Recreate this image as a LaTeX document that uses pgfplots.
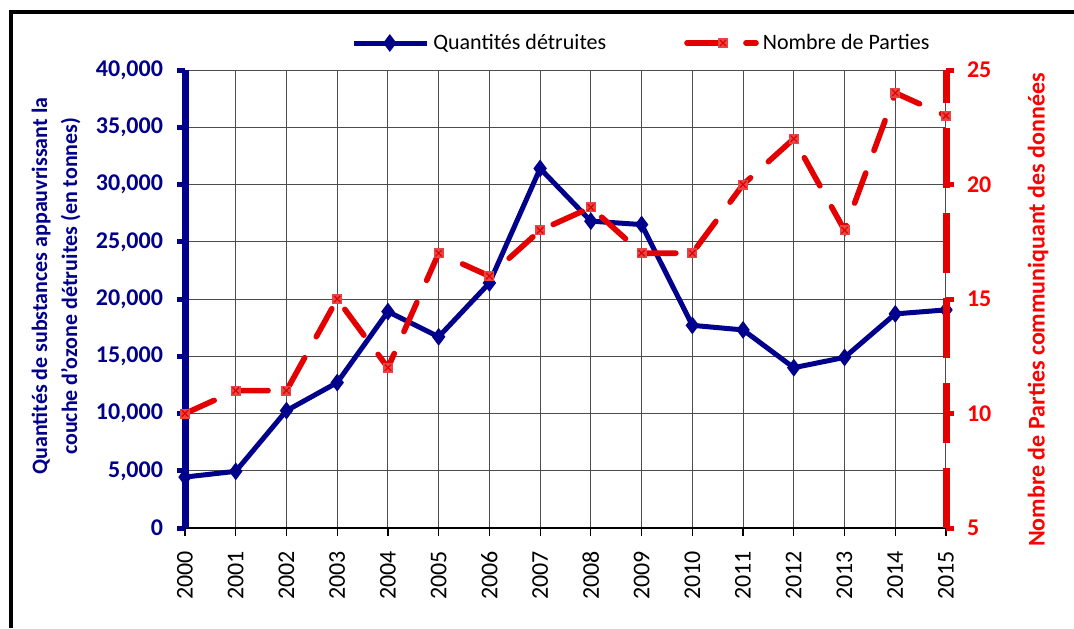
\documentclass[border=0pt]{standalone}
\usepackage{pgfplots}
\pgfplotsset{compat=1.18}
\usepackage{fontspec}
\setmainfont{Carlito}
\definecolor{cblue}{RGB}{0,0,140}
\definecolor{cred}{RGB}{228,0,0}
\definecolor{tred}{RGB}{255,0,0}
\definecolor{mred}{RGB}{230,70,70}
\pgfdeclareplotmark{sqx}{%
  \pgfpathrectangle{\pgfqpoint{-\pgfplotmarksize}{-\pgfplotmarksize}}{\pgfqpoint{2\pgfplotmarksize}{2\pgfplotmarksize}}%
  \pgfusepathqfill
  \pgfsetlinewidth{0.6pt}%
  \pgfpathmoveto{\pgfqpoint{-0.6\pgfplotmarksize}{-0.6\pgfplotmarksize}}%
  \pgfpathlineto{\pgfqpoint{0.6\pgfplotmarksize}{0.6\pgfplotmarksize}}%
  \pgfpathmoveto{\pgfqpoint{-0.6\pgfplotmarksize}{0.6\pgfplotmarksize}}%
  \pgfpathlineto{\pgfqpoint{0.6\pgfplotmarksize}{-0.6\pgfplotmarksize}}%
  \pgfusepathqstroke
}
\pgfplotstableread{
year q
2000 4450
2001 4950
2002 10250
2003 12700
2004 18900
2005 16700
2006 21400
2007 31400
2008 26800
2009 26500
2010 17700
2011 17300
2012 14000
2013 14900
2014 18700
2015 19050
}\qtab
\pgfplotstableread{
year n
2000 10
2001 11
2002 11
2003 15
2004 12
2005 17
2006 16
2007 18
2008 19
2009 17
2010 17
2011 20
2012 22
2013 18
2014 24
2015 23
}\ntab
\begin{document}
\begin{tikzpicture}
\useasboundingbox (0,0) rectangle (537pt,314pt);
\draw[line width=2pt] (5.5pt,0) -- (5.5pt,308pt) -- (540pt,308pt);
\begin{axis}[
  at={(92.5pt,50pt)}, anchor=south west,
  scale only axis, width=380.5pt, height=229pt,
  xmin=2000, xmax=2015, ymin=0, ymax=40000,
  xtick={2000,...,2015},
  xticklabels={2000,2001,2002,2003,2004,2005,2006,2007,2008,2009,2010,2011,2012,2013,2014,2015},
  ytick={0,5000,...,40000},
  scaled y ticks=false,
  /pgf/number format/assume math mode=true,
  /pgf/number format/1000 sep={,},
  axis x line*=bottom, axis y line*=left,
  x axis line style={black, line width=0.6pt, -},
  y axis line style={cblue, line width=3.5pt, -},
  tick align=outside, major tick length=4pt,
  xtick style={black, line width=0.6pt},
  ytick style={cblue, line width=2.5pt},
  grid=major,
  grid style={black!70, line width=0.5pt},
  xticklabel style={rotate=90, anchor=east, font=\fontsize{12}{14}\selectfont, black, xshift=-4pt},
  yticklabel style={font=\fontsize{12}{14}\selectfont\bfseries, text=cblue, xshift=-3.5pt},
  ylabel={Quantités de substances appauvrissant la\\couche d’ozone détruites (en tonnes)},
  ylabel style={at={(axis description cs:-0.1695,0.528)}, anchor=center, rotate=0, align=center,
    font=\fontsize{11}{15}\selectfont\bfseries, text=cblue},
  clip=false,
  legend columns=2,
  legend style={at={(axis description cs:0.601,1)}, anchor=center, yshift=13.5pt,
    draw=none, fill=none, font=\fontsize{11}{13}\selectfont,
    nodes={inner xsep=2pt, inner ysep=1pt},
    /tikz/every even column/.append style={column sep=37pt}},
]
\addplot[cblue, line width=2.5pt, mark=diamond*, mark size=2.4pt, mark options={solid},
  legend image code/.code={
    \draw[cblue, line width=2.5pt] (0pt,0pt) -- (36.5pt,0pt);
    \path plot[mark=diamond*, mark size=2.4pt, mark options={fill=cblue, draw=cblue}] coordinates {(18pt,0pt)};
  }]
  table[x=year, y=q] {\qtab};
\addlegendentry{Quantités détruites}
\addlegendimage{legend image code/.code={
  \draw[cred, line width=2.8pt, line cap=round] (0pt,0pt) -- (19pt,0pt);
  \draw[cred, line width=2.8pt, line cap=round] (29.5pt,0pt) -- (34.5pt,0pt);
  \path plot[mark=sqx, mark size=2.5pt, mark options={fill=mred, draw=cred}] coordinates {(18pt,0pt)};
}}
\addlegendentry{Nombre de Parties}
\end{axis}
\begin{axis}[
  at={(92.5pt,50pt)}, anchor=south west,
  scale only axis, width=380.5pt, height=229pt,
  xmin=2000, xmax=2015, ymin=5, ymax=25,
  axis x line=none,
  axis y line*=right,
  ytick={5,10,...,25},
  /pgf/number format/assume math mode=true,
  y axis line style={tred!90!black, line width=3.5pt, dash pattern=on 30pt off 12.5pt, -},
  tick align=outside, major tick length=4pt,
  ytick style={tred!90!black, line width=2.5pt, solid},
  yticklabel style={font=\fontsize{12}{14}\selectfont\bfseries, text=tred, xshift=3pt},
  ylabel={Nombre de Parties communiquant des données},
  ylabel style={at={(axis description cs:1.121,0.476)}, anchor=center, rotate=0,
    font=\fontsize{12}{14}\selectfont\bfseries, text=tred},
  clip=false,
]
\addplot[cred, line width=2.8pt, line cap=round, dash pattern=on 16pt off 12pt,
  mark=sqx, mark size=2.5pt, mark options={solid, fill=mred, draw=cred}]
  table[x=year, y=n] {\ntab};
\end{axis}
\end{tikzpicture}
\end{document}
